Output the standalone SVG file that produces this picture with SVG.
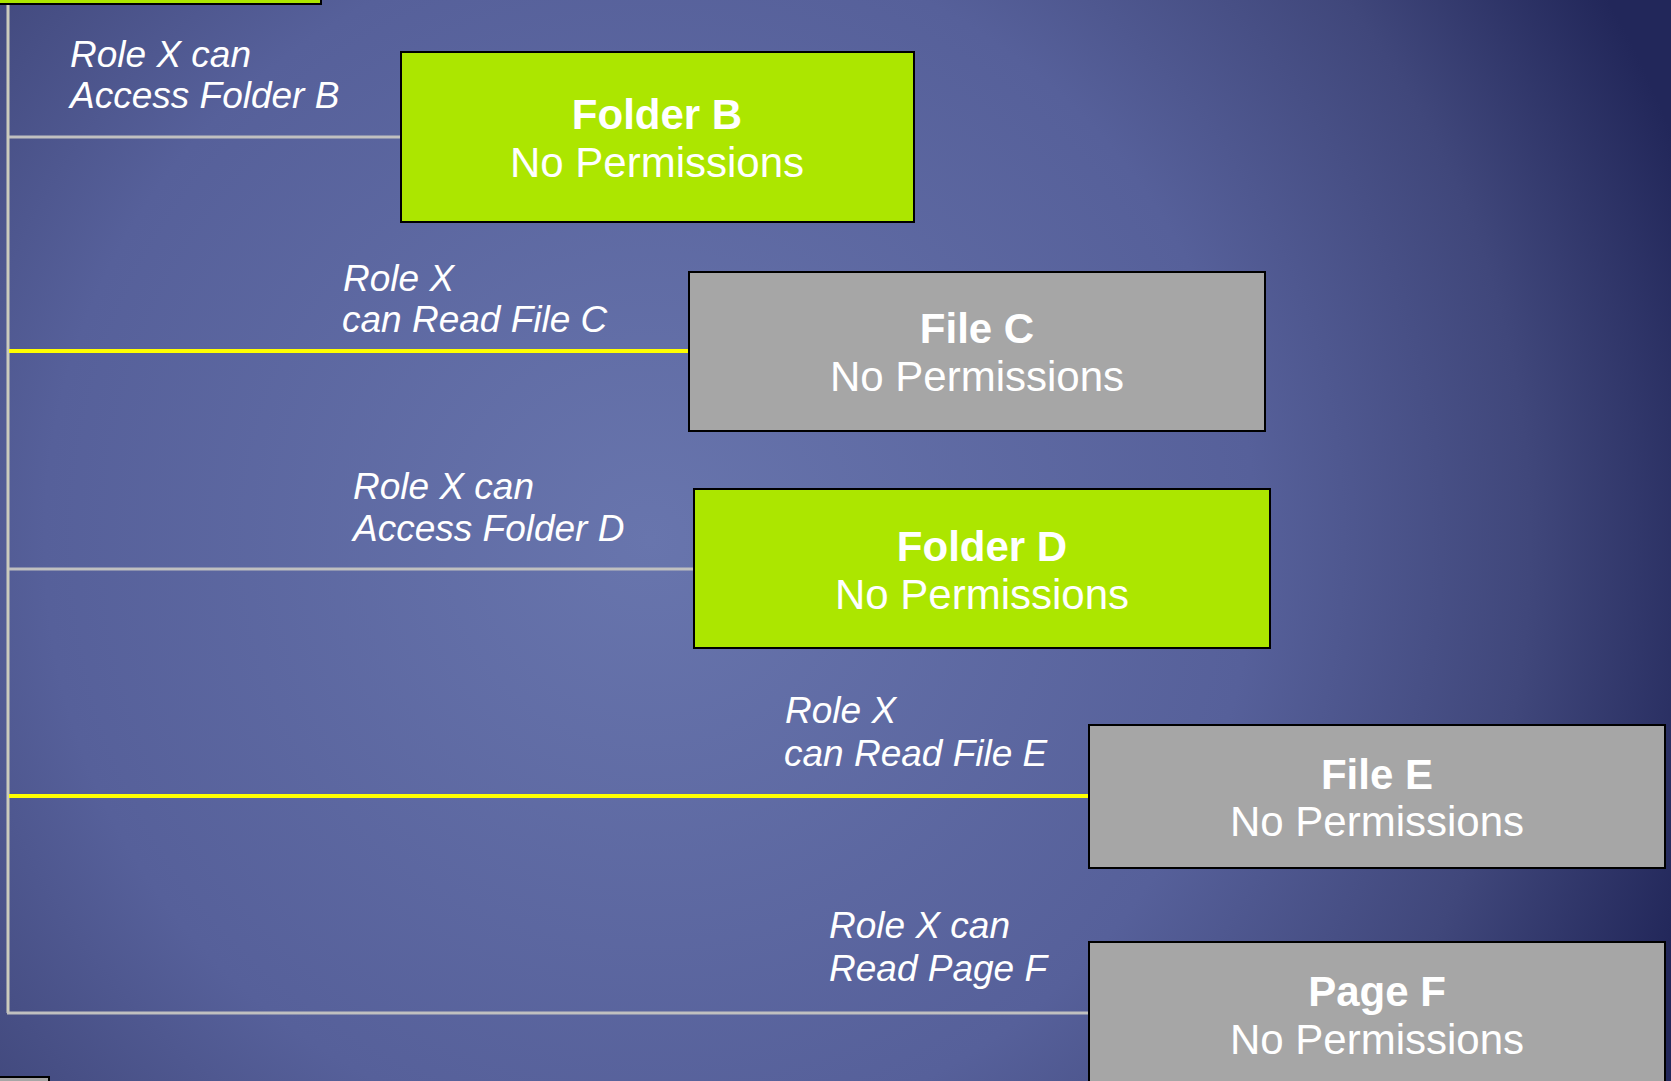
<svg xmlns="http://www.w3.org/2000/svg" width="1671" height="1081" viewBox="0 0 1671 1081">
<defs>
<radialGradient id="bg" gradientUnits="userSpaceOnUse" cx="650" cy="540" r="1100">
<stop offset="0" stop-color="#6875ad"/>
<stop offset="0.55" stop-color="#56609a"/>
<stop offset="0.8" stop-color="#40477b"/>
<stop offset="1" stop-color="#22275a"/>
</radialGradient>
<style>
.box{stroke:#000;stroke-width:2}
.green{fill:#ace600}
.gray{fill:#a6a6a6}
.t{font-family:"Liberation Sans",Arial,sans-serif;font-size:42px;fill:#fff;text-anchor:middle}
.b{font-weight:bold}
.lbl{font-family:"Liberation Sans",Arial,sans-serif;font-size:37px;font-style:italic;fill:#fff}
.gl{stroke:#c0c0c0;stroke-width:3;fill:none}
.yl{stroke:#ffff00;stroke-width:4;fill:none}
.vl{stroke:#cbcbbd;stroke-width:3;fill:none}
</style>
</defs>
<rect x="0" y="0" width="1671" height="1081" fill="url(#bg)"/>
<g id="connectors">
<line class="vl" x1="8" y1="0" x2="8" y2="1013"/>
<line class="gl" x1="9" y1="137" x2="401" y2="137"/>
<line class="yl" x1="9" y1="351" x2="689" y2="351"/>
<line class="gl" x1="9" y1="569" x2="694" y2="569"/>
<line class="yl" x1="9" y1="796" x2="1089" y2="796"/>
<line class="gl" x1="7" y1="1013" x2="1089" y2="1013"/>
</g>
<g id="node-top"><rect class="box green" x="-10" y="-40" width="331" height="44"/></g>
<g id="node-bottom"><rect class="box gray" x="-10" y="1077" width="59" height="40"/></g>
<g id="folderB">
<rect class="box green" x="401" y="52" width="513" height="170"/>
<text class="t b" x="657" y="129">Folder B</text>
<text class="t" x="657" y="177">No Permissions</text>
</g>
<g id="fileC">
<rect class="box gray" x="689" y="272" width="576" height="159"/>
<text class="t b" x="977" y="343">File C</text>
<text class="t" x="977" y="391">No Permissions</text>
</g>
<g id="folderD">
<rect class="box green" x="694" y="489" width="576" height="159"/>
<text class="t b" x="982" y="561">Folder D</text>
<text class="t" x="982" y="609">No Permissions</text>
</g>
<g id="fileE">
<rect class="box gray" x="1089" y="725" width="576" height="143"/>
<text class="t b" x="1377" y="789">File E</text>
<text class="t" x="1377" y="836">No Permissions</text>
</g>
<g id="pageF">
<rect class="box gray" x="1089" y="942" width="576" height="180"/>
<text class="t b" x="1377" y="1006">Page F</text>
<text class="t" x="1377" y="1054">No Permissions</text>
</g>
<g id="labels">
<text class="lbl" x="70" y="67">Role X can</text>
<text class="lbl" x="70" y="108">Access Folder B</text>
<text class="lbl" x="343" y="291">Role X</text>
<text class="lbl" x="342" y="332">can Read File C</text>
<text class="lbl" x="353" y="499">Role X can</text>
<text class="lbl" x="353" y="541">Access Folder D</text>
<text class="lbl" x="785" y="723">Role X</text>
<text class="lbl" x="784" y="766">can Read File E</text>
<text class="lbl" x="829" y="938">Role X can</text>
<text class="lbl" x="829" y="981">Read Page F</text>
</g>
</svg>
